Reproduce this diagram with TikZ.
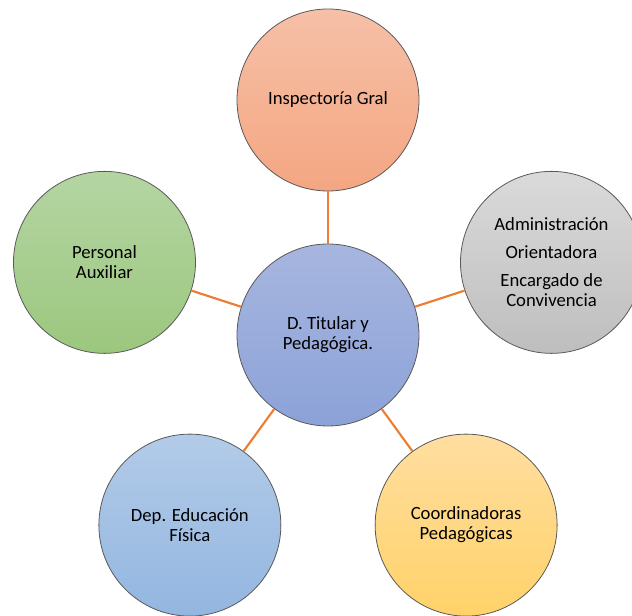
\documentclass[tikz,border=0pt]{standalone}
\usepackage{fontspec}
\setmainfont{Carlito}
\usetikzlibrary{positioning}

\definecolor{linkorange}{HTML}{ED7D31}
\definecolor{rimgray}{HTML}{595959}

\begin{document}
\begin{tikzpicture}[x=0.75pt, y=0.75pt, font=\fontsize{14}{15}\selectfont]
	\tikzstyle{area} = [circle, draw=rimgray, line width=0.6pt, minimum size=136.5pt, inner sep=0pt, align=center, text=black];
	\tikzstyle{link} = [draw=linkorange, line width=1.6pt];

	\useasboundingbox (-328,-281) rectangle (304,335);

	\node [area, top color={rgb,255:red,246;green,192;blue,167}, bottom color={rgb,255:red,244;green,166;blue,130}] (insp) at (90:235) {Inspectoría Gral};
	\node [area, top color={rgb,255:red,180;green,213;blue,163}, bottom color={rgb,255:red,156;green,199;blue,126}] (aux) at (162:235) {Personal\\Auxiliar};
	\node [area, top color={rgb,255:red,218;green,218;blue,218}, bottom color={rgb,255:red,190;green,190;blue,190}] (adm) at (18:235) {Administración\\[6pt]Orientadora\\[6pt]Encargado de\\Convivencia};
	\node [area, top color={rgb,255:red,178;green,203;blue,232}, bottom color={rgb,255:red,147;green,182;blue,224}] (edf) at (234:235) {Dep. Educación\\Física};
	\node [area, top color={rgb,255:red,255;green,222;blue,160}, bottom color={rgb,255:red,255;green,210;blue,105}] (coord) at (306:235) {Coordinadoras\\Pedagógicas};
	\node [area, top color={rgb,255:red,167;green,182;blue,223}, bottom color={rgb,255:red,140;green,162;blue,216}] (dir) at (0,0) {D. Titular y\\Pedagógica.};

	\path [link] (dir) edge (insp)
	             (dir) edge (aux)
	             (dir) edge (adm)
	             (dir) edge (edf)
	             (dir) edge (coord);
\end{tikzpicture}
\end{document}
